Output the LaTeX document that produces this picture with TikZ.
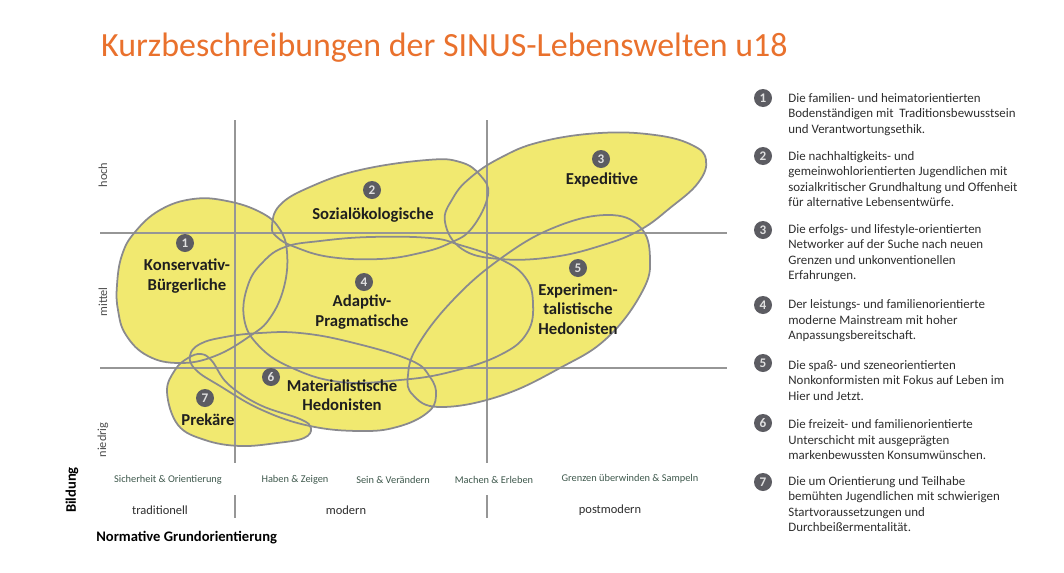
\documentclass[tikz,border=0pt]{standalone}
\usepackage{fontspec}
\setmainfont{Carlito}
\usetikzlibrary{positioning}

\definecolor{sinusorange}{RGB}{233,113,45}
\definecolor{blobyellow}{RGB}{241,233,112}
\definecolor{blobline}{RGB}{138,138,142}
\definecolor{gridgray}{RGB}{150,150,150}
\definecolor{badgegray}{RGB}{92,92,98}
\definecolor{catgreen}{RGB}{62,88,76}
\definecolor{textgray}{RGB}{45,45,45}

\tikzset{
  blobfill/.style={fill=blobyellow},
  blobedge/.style={draw=blobline, line width=1pt},
  gridline/.style={draw=gridgray, line width=0.7pt},
  badge/.style={circle, fill=badgegray, text=white!88!black, inner sep=0pt,
    minimum size=0.36cm, font=\fontsize{7.5}{7.5}\selectfont\bfseries},
  grp/.style={align=center, inner sep=0pt, text=black!88,
    font=\fontsize{9.5}{11}\selectfont\bfseries},
  desc/.style={align=left, inner sep=0pt, anchor=north west, text=textgray,
    font=\fontsize{7.35}{8.85}\selectfont},
  catlbl/.style={text=catgreen, font=\fontsize{5.9}{7}\selectfont},
  orilbl/.style={text=textgray, font=\fontsize{7.1}{8}\selectfont},
  rowlbl/.style={rotate=90, text=black!70, font=\fontsize{7}{8}\selectfont},
}

\begin{document}
\begin{tikzpicture}[x=0.02cm, y=-0.02cm]
  \useasboundingbox (0,0) rectangle (1064,572);

  % title
  \node[anchor=west, text=sinusorange, font=\fontsize{19.3}{22}\selectfont]
    (ttl) at (95,48) {Kurzbeschreibungen der SINUS-Lebenswelten u18};

  % outlines of the seven milieus
  \path[save path=\pKB] plot[smooth cycle, tension=0.7] coordinates {
    (117,285) (122,255) (135,232) (160,210) (193,199) (227,201) (260,212)
    (279,228) (287,252) (284,287) (270,318) (250,336) (215,356) (180,363)
    (148,356) (126,335) (118,310)};
  \path[save path=\pSOZ] plot[smooth cycle, tension=0.7] coordinates {
    (272,226) (280,205) (310,187) (360,170) (427,160) (460,162) (480,175)
    (488,195) (472,228) (450,243) (420,253) (380,259) (330,257) (295,247)
    (277,237)};
  \path[save path=\pEXP] plot[smooth cycle, tension=0.7] coordinates {
    (445,222) (453,198) (470,178) (500,158) (540,142) (600,133) (655,135)
    (692,145) (706,160) (698,183) (670,208) (640,230) (603,245) (553,257)
    (500,259) (462,249)};
  \path[save path=\pAP] plot[smooth cycle, tension=0.7] coordinates {
    (285,247) (320,241) (370,237) (430,238) (460,245) (500,259) (525,277)
    (533,303) (527,333) (500,355) (450,372) (400,380) (340,382) (290,367)
    (258,345) (244,318) (248,285) (263,262)};
  \path[save path=\pEH] plot[smooth cycle, tension=0.7] coordinates {
    (408,375) (418,345) (453,300) (500,259) (553,228) (607,215) (640,227)
    (650,258) (642,292) (607,338) (560,368) (500,396) (440,407) (413,395)};
  \path[save path=\pMH] plot[smooth cycle, tension=0.7] coordinates {
    (190,356) (200,344) (225,337) (260,333) (300,333) (350,342) (410,360)
    (430,377) (436,396) (427,413) (397,427) (360,431) (310,426) (262,410)
    (220,386) (196,370)};
  \path[save path=\pPR] plot[smooth cycle, tension=0.65] coordinates {
    (167,392) (175,370) (188,358) (201,354) (212,361) (228,384) (260,405)
    (300,419) (311,428) (304,438) (277,443) (240,446) (205,440) (178,425)};

  % yellow first, then every outline on top
  \fill[blobfill, use path=\pKB];
  \fill[blobfill, use path=\pSOZ];
  \fill[blobfill, use path=\pEXP];
  \fill[blobfill, use path=\pAP];
  \fill[blobfill, use path=\pEH];
  \fill[blobfill, use path=\pMH];
  \fill[blobfill, use path=\pPR];

  % grid
  \draw[gridline] (235,120) -- (235,463);
  \draw[gridline] (487,120) -- (487,463);
  \draw[gridline] (100,233) -- (727,233);
  \draw[gridline] (100,368) -- (727,368);

  \draw[blobedge, use path=\pKB];
  \draw[blobedge, use path=\pSOZ];
  \draw[blobedge, use path=\pEXP];
  \draw[blobedge, use path=\pAP];
  \draw[blobedge, use path=\pEH];
  \draw[blobedge, use path=\pMH];
  \draw[blobedge, use path=\pPR];

  % numbers and names
  \node[badge] (m1) at (185,243) {1};
  \node[grp] (kb) at (187,276) {Konservativ-\\Bürgerliche};
  \node[badge] (m2) at (372,190) {2};
  \node[grp] (soz) at (373,215) {Sozialökologische};
  \node[badge] (m3) at (601,159) {3};
  \node[grp] (exp) at (602,180) {Expeditive};
  \node[badge] (m4) at (364,282) {4};
  \node[grp] (ap) at (362,312) {Adaptiv-\\Pragmatische};
  \node[badge] (m5) at (578,268) {5};
  \node[grp] (eh) at (578,309) {Experimen-\\talistische\\Hedonisten};
  \node[badge] (m6) at (271,377) {6};
  \node[grp] (mh) at (342,395) {Materialistische\\Hedonisten};
  \node[badge] (m7) at (205,398) {7};
  \node[grp] (pr) at (208,420) {Prekäre};

  % axes
  \node[rowlbl] (hoch) at (103,175) {hoch};
  \node[rowlbl] (mittel) at (103,302) {mittel};
  \node[rowlbl] (niedrig) at (103,440) {niedrig};
  \node[rotate=90, font=\fontsize{8.3}{9}\selectfont\bfseries] (bild) at (72,490) {Bildung};

  \node[catlbl] (c1) at (168,480) {Sicherheit \& Orientierung};
  \node[catlbl] (c2) at (295,480) {Haben \& Zeigen};
  \node[catlbl] (c3) at (393,480) {Sein \& Verändern};
  \node[catlbl] (c4) at (494,480) {Machen \& Erleben};
  \node[catlbl] (c5) at (630,479) {Grenzen überwinden \& Sampeln};

  \draw[gridline] (235,495) -- (235,518);
  \draw[gridline] (487,495) -- (487,518);
  \node[orilbl] (o1) at (160,510) {traditionell};
  \node[orilbl] (o2) at (346,510) {modern};
  \node[orilbl] (o3) at (610,510) {postmodern};
  \node[anchor=west, inner sep=0pt, font=\fontsize{8.3}{9}\selectfont\bfseries] (norm) at (96,538) {Normative Grundorientierung};

  % legend on the right
  \node[badge] (n1) at (763,98) {1};
  \node[desc] (d1) at (788,93) {Die familien- und heimatorientierten\\Bodenständigen mit ~Traditionsbewusstsein\\und Verantwortungsethik.};
  \node[badge] (n2) at (763,156) {2};
  \node[desc] (d2) at (788,151) {Die nachhaltigkeits- und\\gemeinwohlorientierten Jugendlichen mit\\sozialkritischer Grundhaltung und Offenheit\\für alternative Lebensentwürfe.};
  \node[badge] (n3) at (763,230) {3};
  \node[desc] (d3) at (788,224) {Die erfolgs- und lifestyle-orientierten\\Networker auf der Suche nach neuen\\Grenzen und unkonventionellen\\Erfahrungen.};
  \node[badge] (n4) at (763,305) {4};
  \node[desc] (d4) at (788,299.5) {Der leistungs- und familienorientierte\\moderne Mainstream mit hoher\\Anpassungsbereitschaft.};
  \node[badge] (n5) at (763,363) {5};
  \node[desc] (d5) at (788,360) {Die spaß- und szeneorientierten\\Nonkonformisten mit Fokus auf Leben im\\Hier und Jetzt.};
  \node[badge] (n6) at (763,423) {6};
  \node[desc] (d6) at (788,419.5) {Die freizeit- und familienorientierte\\Unterschicht mit ausgeprägten\\markenbewussten Konsumwünschen.};
  \node[badge] (n7) at (763,482) {7};
  \node[desc] (d7) at (788,476) {Die um Orientierung und Teilhabe\\bemühten Jugendlichen mit schwierigen\\Startvoraussetzungen und\\Durchbeißermentalität.};
\end{tikzpicture}
\end{document}
